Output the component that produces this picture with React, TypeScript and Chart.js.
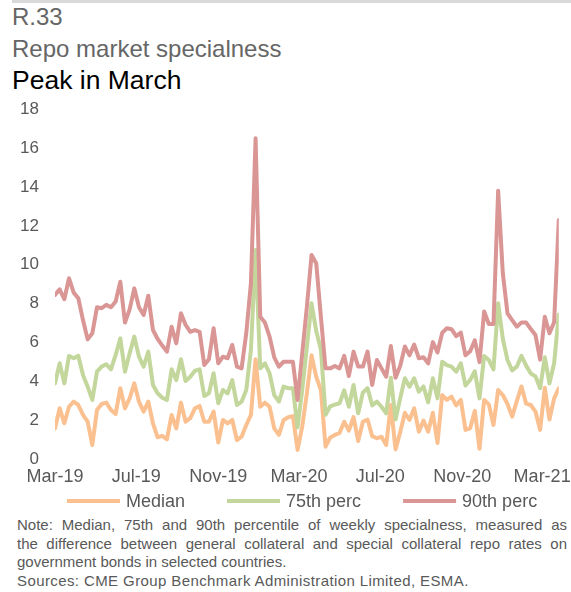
import { useEffect, useRef } from "react";
import { Chart, registerables } from "chart.js";

Chart.register(...registerables);

// Weekly repo specialness (percentage points), first week of March 2019 to end of March 2021
const MEDIAN = [
  1.6, 2.63, 1.86, 2.71, 2.97, 2.8, 2.29, 1.94, 0.74, 2.54,
  2.85, 2.92, 2.54, 2.34, 3.66, 2.63, 3.14, 3.91, 2.97, 2.46,
  2.97, 1.86, 1.14, 1.21, 1.04, 2.29, 1.6, 2.92, 1.94, 2.12,
  2.63, 2.75, 1.94, 1.94, 2.46, 0.87, 2.03, 1.86, 2.03, 1.0,
  1.17, 1.77, 2.29, 5.15, 2.71, 2.92, 2.71, 1.6, 1.26, 2.03,
  2.17, 2.23, 0.49, 1.69, 3.4, 5.35, 4.25, 3.57, 0.66, 1.13,
  1.26, 1.36, 1.94, 1.48, 2.18, 0.95, 1.94, 2.05, 1.2, 1.09,
  1.17, 0.74, 2.8, 0.52, 1.4, 2.4, 2.03, 2.63, 1.43, 2.0,
  1.43, 2.4, 0.85, 3.31, 3.06, 3.23, 2.78, 3.06, 1.52, 1.6,
  2.5, 0.55, 3.06, 2.83, 1.77, 3.57, 3.31, 2.85, 2.2, 3.0,
  3.75, 2.87, 2.8, 2.46, 1.52, 3.68, 2.05, 3.14, 3.66,
];

const P75 = [
  3.91, 4.94, 3.91, 5.32, 5.2, 5.32, 4.34, 3.74, 3.06, 4.51,
  4.77, 4.89, 4.63, 5.37, 6.22, 4.51, 5.45, 6.31, 5.28, 4.77,
  5.54, 3.83, 3.4, 3.17, 3.06, 4.63, 4.08, 5.15, 4.03, 4.25,
  4.56, 4.63, 3.26, 3.4, 4.43, 2.89, 3.57, 3.4, 4.08, 2.8,
  2.97, 3.57, 5.62, 10.76, 4.68, 4.94, 4.43, 3.31, 2.97, 3.74,
  3.66, 3.66, 1.65, 3.57, 5.79, 8.02, 6.6, 5.65, 2.3, 2.73,
  2.82, 2.89, 3.55, 2.71, 3.83, 2.37, 3.44, 3.66, 2.78, 2.97,
  2.71, 2.37, 4.2, 2.05, 3.14, 4.17, 3.74, 4.17, 3.48, 3.75,
  2.93, 4.17, 3.14, 5.02, 4.85, 4.77, 4.51, 4.94, 3.8, 4.08,
  4.53, 3.14, 5.32, 5.11, 4.63, 8.02, 6.2, 5.11, 4.58, 4.77,
  5.32, 4.82, 4.42, 4.27, 3.66, 5.25, 3.91, 4.94, 7.45,
];

const P90 = [
  8.45, 8.74, 8.23, 9.31, 8.57, 8.28, 7.16, 6.17, 6.48, 7.82,
  7.77, 7.94, 7.82, 8.11, 9.13, 7.03, 7.71, 8.79, 7.82, 7.42,
  8.41, 6.65, 6.19, 5.85, 5.54, 6.82, 5.97, 7.51, 6.91, 6.56,
  6.65, 6.56, 4.85, 5.15, 6.74, 4.94, 5.28, 5.2, 5.88, 4.77,
  4.68, 6.48, 9.05, 16.5, 7.33, 7.03, 6.31, 5.25, 4.77, 5.02,
  5.02, 5.02, 3.06, 5.45, 7.85, 10.5, 10.08, 7.33, 4.68, 4.68,
  4.8, 4.68, 5.32, 4.29, 5.54, 4.77, 4.77, 5.54, 3.83, 5.11,
  4.68, 4.25, 5.83, 4.2, 4.8, 5.8, 5.35, 5.9, 5.2, 5.25,
  4.94, 6.03, 5.5, 6.5, 6.74, 6.69, 6.34, 6.52, 5.35, 5.56,
  6.12, 5.0, 7.6, 6.96, 6.96, 13.8, 9.56, 7.51, 7.16, 6.82,
  7.03, 7.03, 6.7, 6.39, 5.13, 7.33, 6.48, 7.05, 12.3,
];

const SERIES_NAMES = ["Median", "75th perc", "90th perc"];
const SERIES_COLORS = ["#FAC090", "#C3D69B", "#D99694"];

// Month labels on the time axis, in days after 1 March 2019
const MONTH_LABELS = ["Mar-19", "Jul-19", "Nov-19", "Mar-20", "Jul-20", "Nov-20", "Mar-21"];
const MONTH_DAYS = [0, 122, 245, 366, 488, 611, 731];

const DAYS_PER_WEEK = 7;

const NOTE_JUSTIFIED = [
  "Note: Median, 75th and 90th percentile of weekly specialness, measured as",
  "the difference between general collateral and special collateral repo rates on",
];
const NOTE_LAST = "government bonds in selected countries.";
const SOURCES = "Sources: CME Group Benchmark Administration Limited, ESMA.";

const FONT = "'Liberation Sans', Arial, Helvetica, sans-serif";
const AXIS_GREY = "#595959";

// Legend drawn as short line samples under the time axis
const lineLegend = {
  id: "lineLegend",
  afterDraw(chart: any) {
    const { ctx, chartArea } = chart;
    const sampleLen = 53;
    const textGap = 6;
    const itemGap = 42;
    ctx.save();
    ctx.font = `18px ${FONT}`;
    ctx.textBaseline = "middle";
    ctx.textAlign = "left";
    let x = chartArea.left + 12;
    const y = chartArea.bottom + 41.5;
    chart.data.datasets.forEach((ds: any) => {
      ctx.strokeStyle = ds.borderColor;
      ctx.lineWidth = 4;
      ctx.lineCap = "butt";
      ctx.beginPath();
      ctx.moveTo(x, y);
      ctx.lineTo(x + sampleLen, y);
      ctx.stroke();
      ctx.fillStyle = AXIS_GREY;
      const tx = x + sampleLen + textGap;
      ctx.fillText(ds.label, tx, y + 1);
      x = tx + ctx.measureText(ds.label).width + itemGap;
    });
    ctx.restore();
  },
};

export default function App() {
  const canvasRef = useRef<HTMLCanvasElement>(null);

  useEffect(() => {
    const canvas = canvasRef.current;
    if (!canvas) return;
    const seriesValues = [MEDIAN, P75, P90];
    const lastDay = (P90.length - 1) * DAYS_PER_WEEK;

    const chart = new Chart(canvas, {
      type: "line",
      data: {
        datasets: seriesValues.map((vals, s) => ({
          label: SERIES_NAMES[s],
          data: vals.map((v, i) => ({ x: i * DAYS_PER_WEEK, y: v })),
          borderColor: SERIES_COLORS[s],
          backgroundColor: SERIES_COLORS[s],
          borderWidth: 4,
          pointRadius: 0,
          pointHoverRadius: 0,
          tension: 0,
          borderJoinStyle: "round" as const,
          borderCapStyle: "round" as const,
          order: seriesValues.length - s,
        })),
      },
      options: {
        responsive: false,
        animation: false,
        devicePixelRatio: 1,
        font: { family: FONT },
        layout: { padding: { top: 14, right: 11, bottom: 25.5, left: 0 } },
        plugins: {
          legend: { display: false },
          tooltip: { enabled: false },
        },
        scales: {
          x: {
            type: "linear",
            min: 0,
            max: lastDay,
            // hidden tick marks keep the gap between plot and labels
            grid: { display: false, drawTicks: true, tickLength: 7, color: "rgba(0,0,0,0)" },
            border: { display: false },
            afterBuildTicks: (scale: any) => {
              scale.ticks = MONTH_DAYS.map((d) => ({ value: d }));
            },
            afterFit: (scale: any) => {
              scale.height = 30;
            },
            ticks: {
              autoSkip: false,
              maxRotation: 0,
              minRotation: 0,
              padding: 0,
              color: AXIS_GREY,
              font: { family: FONT, size: 18 },
              callback: (value: any) => {
                const k = MONTH_DAYS.indexOf(Number(value));
                return k >= 0 ? MONTH_LABELS[k] : "";
              },
            },
          },
          y: {
            min: 0,
            max: 18,
            grid: { display: false, drawTicks: true, tickLength: 16, color: "rgba(0,0,0,0)" },
            border: { display: false },
            afterFit: (scale: any) => {
              scale.width = 55;
            },
            ticks: {
              stepSize: 2,
              padding: 0,
              color: AXIS_GREY,
              font: { family: FONT, size: 17 },
            },
          },
        },
      },
      plugins: [lineLegend],
    });

    return () => chart.destroy();
  }, []);

  return (
    <div
      style={{
        position: "absolute",
        left: 0,
        top: 0,
        width: 571,
        height: 592,
        background: "#ffffff",
        fontFamily: FONT,
        overflow: "hidden",
      }}
    >
      <div style={{ position: "absolute", left: 12, top: 0, width: 559, height: 3, background: "#d9d9d9" }} />
      <div style={{ position: "absolute", left: 12, top: 5, fontSize: 24, lineHeight: "24px", color: "#666666" }}>
        R.33
      </div>
      <div style={{ position: "absolute", left: 12, top: 36.5, fontSize: 24, lineHeight: "24px", color: "#666666", whiteSpace: "nowrap" }}>
        Repo market specialness
      </div>
      <div style={{ position: "absolute", left: 12, top: 67, fontSize: 26.5, lineHeight: "26.5px", color: "#000000", whiteSpace: "nowrap" }}>
        Peak in March
      </div>
      <canvas
        ref={canvasRef}
        width={571}
        height={420}
        style={{ position: "absolute", left: 0, top: 95, width: 571, height: 420 }}
      />
      <div
        style={{
          position: "absolute",
          left: 17,
          top: 516,
          width: 550,
          fontSize: 15,
          lineHeight: "18.6px",
          color: AXIS_GREY,
        }}
      >
        {NOTE_JUSTIFIED.map((line) => (
          <div key={line} style={{ textAlign: "justify", textAlignLast: "justify", whiteSpace: "nowrap" }}>
            {line}
          </div>
        ))}
        <div style={{ whiteSpace: "nowrap" }}>{NOTE_LAST}</div>
        <div style={{ whiteSpace: "nowrap", letterSpacing: "0.4px" }}>{SOURCES}</div>
      </div>
    </div>
  );
}
